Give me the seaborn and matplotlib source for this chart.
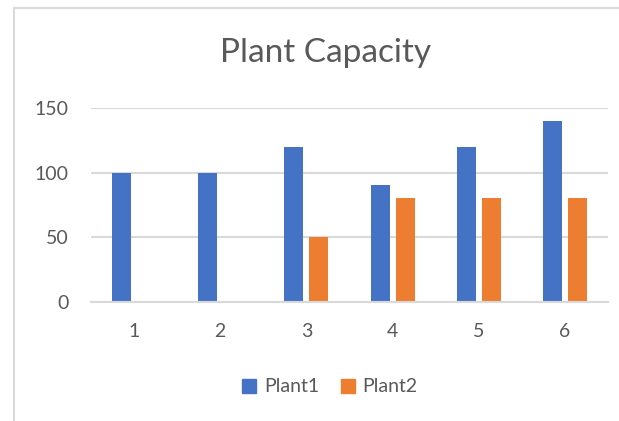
import pandas as pd
import matplotlib.pyplot as plt
import seaborn as sns
from matplotlib.patches import Rectangle

# chart data
categories = ["1", "2", "3", "4", "5", "6"]
plant1 = [100, 100, 120, 90, 120, 140]
plant2 = [0, 0, 50, 80, 80, 80]
series_names = ["Plant1", "Plant2"]
colors = ["#4472C4", "#ED7D31"]
text_color = "#595959"
grid_color = "#D9D9D9"

df = pd.DataFrame({
    "category": categories * 2,
    "value": plant1 + plant2,
    "series": [series_names[0]] * len(categories) + [series_names[1]] * len(categories),
})

sns.set_style("white")
plt.rcParams["font.family"] = ["Lato", "DejaVu Sans"]

fig = plt.figure(figsize=(6.19, 4.21), dpi=100)
ax = fig.add_axes([91 / 619, 1 - 301.7 / 421, (608 - 91) / 619, (301.7 - 108) / 421])

sns.barplot(data=df, x="category", y="value", hue="series", order=categories,
            hue_order=series_names, palette=colors, width=0.58, gap=0.24,
            saturation=1, legend=False, linewidth=0, ax=ax)

ax.set_ylim(0, 150)
ax.set_xlim(-0.5, len(categories) - 0.5)
ax.set_yticks([0, 50, 100, 150])
ax.yaxis.grid(True, color=grid_color, linewidth=1.5)
ax.set_axisbelow(True)
for side in ["top", "right", "left"]:
    ax.spines[side].set_visible(False)
ax.spines["bottom"].set_color(grid_color)
ax.spines["bottom"].set_linewidth(1.5)
ax.tick_params(axis="both", length=0, labelsize=14, labelcolor=text_color)
ax.tick_params(axis="y", pad=16)
ax.tick_params(axis="x", pad=15)
ax.set_xlabel("")
ax.set_ylabel("")

fig.text(326 / 619, 1 - 53 / 421, "Plant Capacity", ha="center", va="center",
         fontsize=24, color=text_color)

handles = [Rectangle((0, 0), 1, 1, color=c) for c in colors]
fig.legend(handles, series_names, loc="center", bbox_to_anchor=(330 / 619, 1 - 387 / 421),
           ncol=2, frameon=False, fontsize=14, labelcolor=text_color,
           handlelength=0.72, handleheight=0.72, handletextpad=0.4, columnspacing=1.1)

# chart area border (cut off at right and bottom)
fig.patches.append(Rectangle((14 / 619, -0.1), 1.2, 1 - 8 / 421 + 0.1,
                             transform=fig.transFigure, fill=False,
                             edgecolor=grid_color, linewidth=1.5))

fig.savefig("out.png", dpi=100)
